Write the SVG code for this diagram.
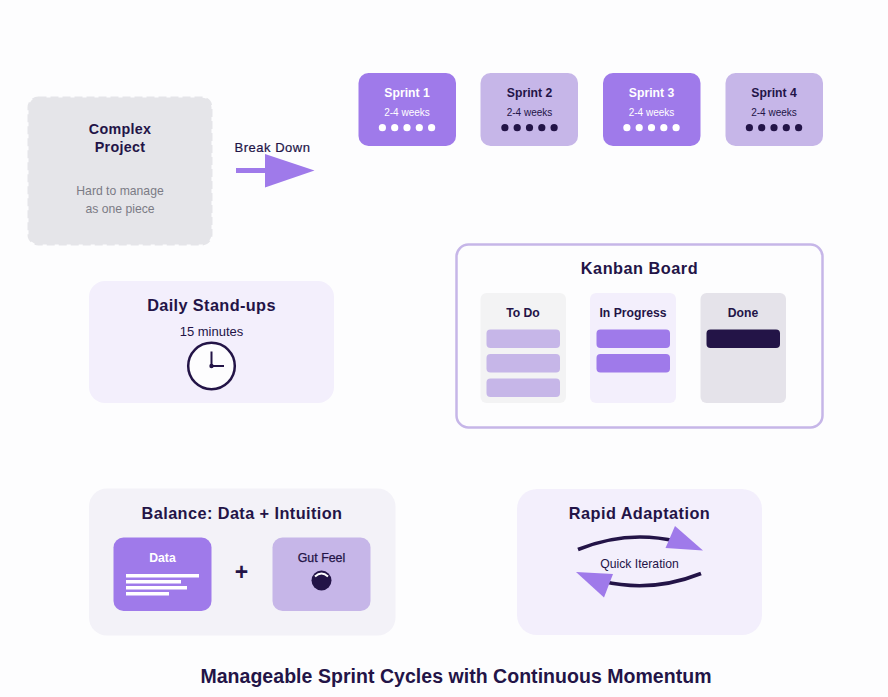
<svg xmlns="http://www.w3.org/2000/svg" width="888" height="697" viewBox="0 0 888 697">
<style>
text{font-family:"Liberation Sans",Arial,sans-serif;text-anchor:middle;fill:#231447}
.b{font-weight:700}
.p{fill:#9f7aea}
.l{fill:#c6b6e8}
.d{fill:#231447}
.s{font-size:10px}
.h{font-size:12.200px;font-weight:700}
.t{font-size:16.300px;font-weight:700;letter-spacing:.38px}
</style>
<defs>
<g id="dots"><circle cx="-24.600" cy="0" r="3.600"/><circle cx="-12.300" cy="0" r="3.600"/><circle cx="0" cy="0" r="3.600"/><circle cx="12.300" cy="0" r="3.600"/><circle cx="24.600" cy="0" r="3.600"/></g>
</defs>
<rect width="888" height="697" fill="#fdfdfe"/>
<g id="complex-project">
<rect x="28.500" y="97.500" width="183" height="147" rx="10" fill="#e5e5e9" stroke="#e5e5e9" stroke-width="2" stroke-dasharray="8 4"/>
<text x="120" y="134" class="b" font-size="14.300" letter-spacing=".28">Complex</text>
<text x="120" y="152" class="b" font-size="14.300" letter-spacing=".28">Project</text>
<text x="120" y="195" font-size="12.200" style="fill:#7b7b85">Hard to manage</text>
<text x="120" y="213" font-size="12.200" style="fill:#7b7b85">as one piece</text>
</g>
<g id="connectors">
<text x="272.500" y="152" font-size="13" letter-spacing=".5" style="stroke:#231447;stroke-width:.2">Break Down</text>
<path d="M236 170.500H266" stroke="#9f7aea" stroke-width="5" fill="none"/>
<polygon class="p" points="265,154 314.500,170.500 265,187.500"/>
</g>
<g id="sprint-1"><rect class="p" x="358.500" y="73" width="97.500" height="73" rx="10"/>
<text x="407" y="97" class="h" style="fill:#fff">Sprint 1</text><text x="407" y="116" class="s" style="fill:#fff">2-4 weeks</text><use href="#dots" x="407" y="127.700" fill="#fff"/></g>
<g id="sprint-2"><rect class="l" x="480.500" y="73" width="97.500" height="73" rx="10"/>
<text x="529.500" y="97" class="h">Sprint 2</text><text x="529.500" y="116" class="s">2-4 weeks</text><use href="#dots" x="529.500" y="127.700" fill="#231447"/></g>
<g id="sprint-3"><rect class="p" x="603" y="73" width="97.500" height="73" rx="10"/>
<text x="651.500" y="97" class="h" style="fill:#fff">Sprint 3</text><text x="651.500" y="116" class="s" style="fill:#fff">2-4 weeks</text><use href="#dots" x="651.500" y="127.700" fill="#fff"/></g>
<g id="sprint-4"><rect class="l" x="725.500" y="73" width="97.500" height="73" rx="10"/>
<text x="774" y="97" class="h">Sprint 4</text><text x="774" y="116" class="s">2-4 weeks</text><use href="#dots" x="774" y="127.700" fill="#231447"/></g>
<g id="daily-standups">
<rect x="89" y="281" width="245" height="122" rx="16" fill="#f3effc"/>
<text x="211.500" y="311" class="t">Daily Stand-ups</text>
<text x="211.500" y="336" font-size="13">15 minutes</text>
<circle cx="211.500" cy="366" r="23.300" fill="#fdfdfe" stroke="#231447" stroke-width="2.500"/>
<path d="M211.500 366V351.500M211.500 366H224" stroke="#231447" stroke-width="2" fill="none"/>
<circle cx="211.500" cy="366" r="2.200" fill="#231447"/>
</g>
<g id="kanban-board">
<rect x="456.500" y="244.500" width="366" height="183" rx="12" fill="#fdfdfe" stroke="#c6b6e8" stroke-width="2.500"/>
<text x="639.500" y="274" class="t" style="letter-spacing:.5px">Kanban Board</text>
<rect x="480.500" y="293" width="85.500" height="110" rx="6" fill="#f3f3f4"/>
<rect x="590" y="293" width="86" height="110" rx="6" fill="#f3effc"/>
<rect x="700.500" y="293" width="85.500" height="110" rx="6" fill="#e5e3ea"/>
<text x="523" y="317" class="h">To Do</text>
<text x="633" y="317" class="h">In Progress</text>
<text x="743" y="317" class="h">Done</text>
<rect class="l" x="486.500" y="329.500" width="73.500" height="18.500" rx="4"/>
<rect class="l" x="486.500" y="354" width="73.500" height="18.500" rx="4"/>
<rect class="l" x="486.500" y="378.500" width="73.500" height="18.500" rx="4"/>
<rect class="p" x="596.500" y="329.500" width="73.500" height="18.500" rx="4"/>
<rect class="p" x="596.500" y="354" width="73.500" height="18.500" rx="4"/>
<rect class="d" x="706.500" y="329.500" width="73.500" height="18.500" rx="4"/>
</g>
<g id="balance">
<rect x="89" y="488.500" width="306.500" height="147" rx="18" fill="#f3f2f8"/>
<text x="242" y="519" class="t" style="letter-spacing:.42px">Balance: Data + Intuition</text>
<rect class="p" x="113.500" y="537.500" width="98" height="73.500" rx="10"/>
<text x="162.500" y="562" class="h" style="fill:#fff">Data</text>
<rect x="126" y="574" width="73" height="3.500" fill="#fff"/>
<rect x="126" y="580" width="55" height="3.500" fill="#fff"/>
<rect x="126" y="586" width="61" height="3.500" fill="#fff"/>
<rect x="126" y="592" width="43" height="3.500" fill="#fff"/>
<text x="241.500" y="580" class="b" font-size="23">+</text>
<rect class="l" x="272.500" y="537.500" width="98" height="73.500" rx="10"/>
<text x="321.500" y="562" font-size="12.400" style="stroke:#231447;stroke-width:.25">Gut Feel</text>
<circle cx="321.500" cy="580.500" r="10" fill="#231447"/>
<path d="M315 576.500Q321.500 570.500 328 576.500" stroke="#fff" stroke-width="2" fill="none"/>
</g>
<g id="rapid-adaptation">
<rect x="517" y="489" width="245" height="146" rx="20" fill="#f3effc"/>
<text x="639.500" y="519" class="t" style="letter-spacing:.45px">Rapid Adaptation</text>
<text x="639.500" y="568" font-size="12.200">Quick Iteration</text>
<path d="M578 549.500Q627.600 529.500 677 541.500" stroke="#231447" stroke-width="3.700" fill="none"/>
<path d="M701 573.500Q651.800 593.100 602.600 581.300" stroke="#231447" stroke-width="3.700" fill="none"/>
<polygon class="p" points="675,526 703,550.500 665.500,548"/>
<polygon class="p" points="576,572 613,574 604,597.500"/>
</g>
<g id="caption">
<text x="456" y="683" class="b" font-size="19.500" letter-spacing=".04">Manageable Sprint Cycles with Continuous Momentum</text>
</g>
</svg>
